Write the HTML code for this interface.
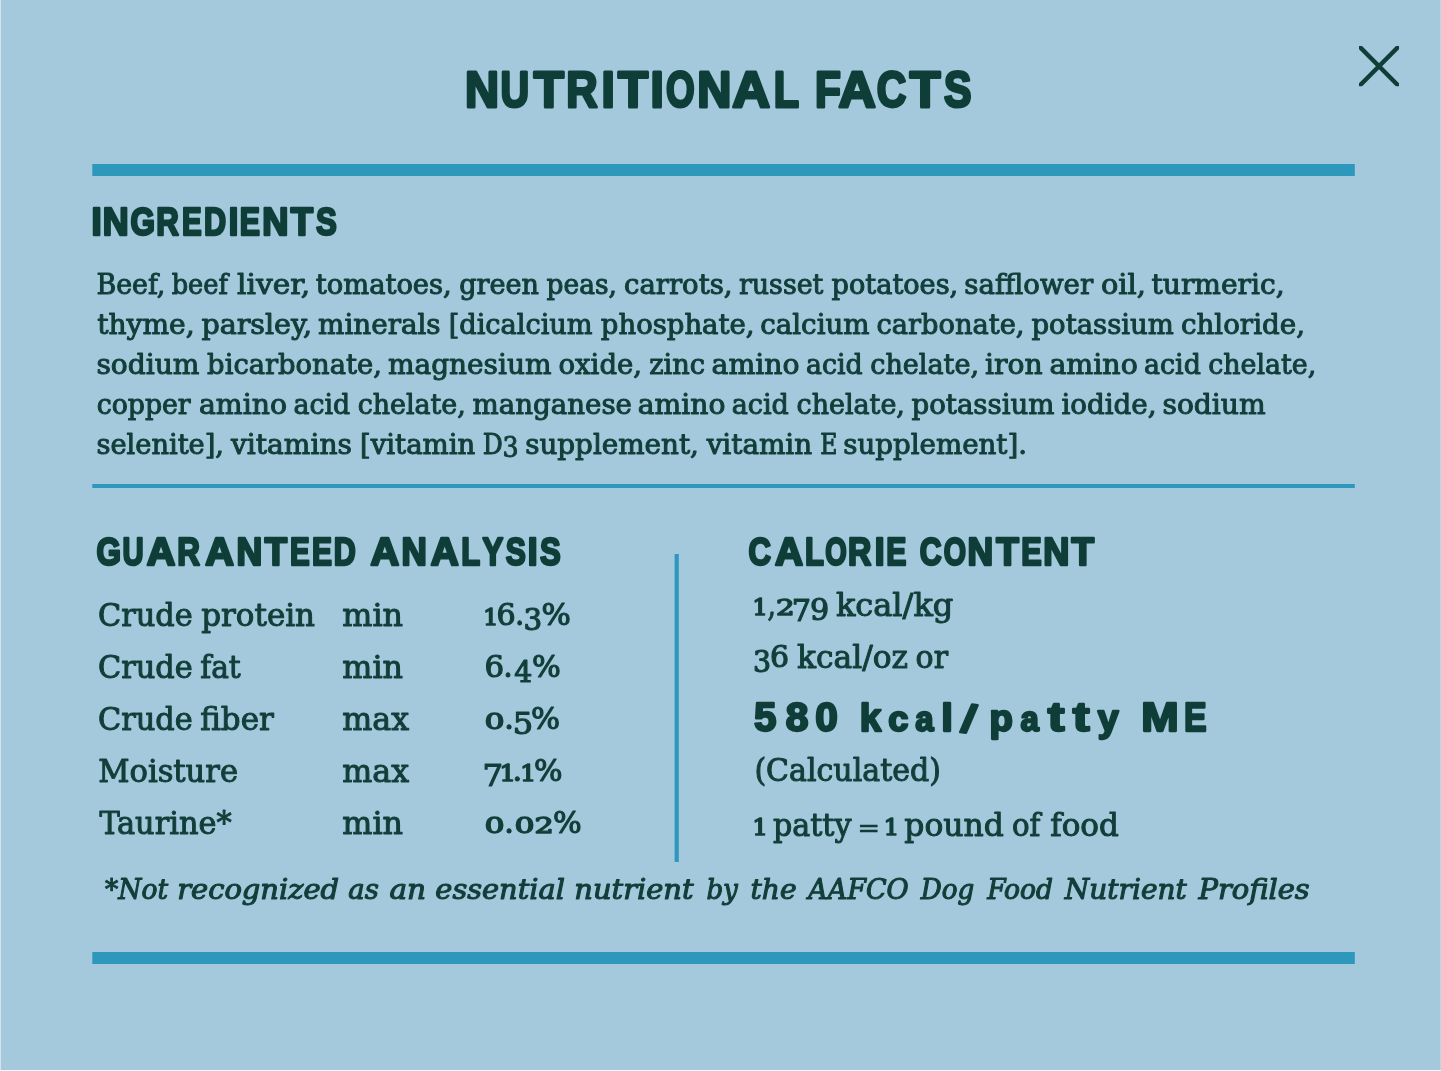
<!DOCTYPE html>
<html lang="en">
<head>
<meta charset="utf-8">
<title>Nutritional Facts</title>
<style>
html,body{margin:0;padding:0;background:#a4c8dc;overflow:hidden}
#stage{position:relative;width:1441px;height:1071px;background:#a4c8dc;overflow:hidden}
svg{position:absolute;left:0;top:0;display:block}
text{stroke-linejoin:round;white-space:pre}
.hd{font-family:"Liberation Sans","DejaVu Sans",sans-serif;font-weight:bold;fill:#0f3d38;stroke:#0f3d38}
.bd{font-family:"DejaVu Serif Condensed","DejaVu Serif","Liberation Serif",serif;font-stretch:condensed;fill:#113e39;stroke:#113e39}
.it{font-family:"DejaVu Serif Condensed","DejaVu Serif","Liberation Serif",serif;font-stretch:condensed;font-style:italic;fill:#113e39;stroke:#113e39}
.bar{fill:#2d98bb}
</style>
</head>
<body>
<div id="stage">
<svg width="1441" height="1071" viewBox="0 0 1441 1071">
<rect x="0" y="0" width="1441" height="1071" fill="#a4c8dc"/>
<rect x="0" y="0" width="1" height="1071" fill="#d3e4ee"/>
<rect x="1440" y="0" width="1" height="1071" fill="#bcd6e4"/>
<rect x="0" y="1070" width="1441" height="1" fill="#f1f6f9"/>
<rect class="bar" x="92.3" y="164" width="1262.5" height="12"/>
<rect class="bar" x="92.3" y="484" width="1262.5" height="4"/>
<rect class="bar" x="674.6" y="554" width="4.2" height="308"/>
<rect class="bar" x="92.3" y="952" width="1262.5" height="12"/>
<svg x="1359" y="46.1" width="40" height="40.2" viewBox="0 0 40 40" preserveAspectRatio="none"><path d="M0 0L40 40M40 0L0 40" stroke="#0f3d38" stroke-width="4.4" fill="none"/></svg>
<text class="hd" aria-label="NUTRITIONAL FACTS"><tspan x="465.04" y="106.50" textLength="34.04" lengthAdjust="spacingAndGlyphs" font-size="50.73" stroke-width="3.0">N</tspan><tspan x="500.59" y="106.50" textLength="28.66" lengthAdjust="spacingAndGlyphs" font-size="50.73" stroke-width="3.0">U</tspan><tspan x="533.81" y="106.50" textLength="30.16" lengthAdjust="spacingAndGlyphs" font-size="50.73" stroke-width="3.0">T</tspan><tspan x="566.28" y="106.50" textLength="31.33" lengthAdjust="spacingAndGlyphs" font-size="50.73" stroke-width="3.0">R</tspan><tspan x="601.42" y="106.50" textLength="13.26" lengthAdjust="spacingAndGlyphs" font-size="50.73" stroke-width="3.0">I</tspan><tspan x="617.90" y="106.50" textLength="30.07" lengthAdjust="spacingAndGlyphs" font-size="50.73" stroke-width="3.0">T</tspan><tspan x="650.62" y="106.50" textLength="13.26" lengthAdjust="spacingAndGlyphs" font-size="50.73" stroke-width="3.0">I</tspan><tspan x="665.98" y="106.50" textLength="28.68" lengthAdjust="spacingAndGlyphs" font-size="50.73" stroke-width="3.0">O</tspan><tspan x="697.23" y="106.50" textLength="34.15" lengthAdjust="spacingAndGlyphs" font-size="50.73" stroke-width="3.0">N</tspan><tspan x="732.34" y="106.50" textLength="37.79" lengthAdjust="spacingAndGlyphs" font-size="50.73" stroke-width="3.0">A</tspan><tspan x="773.85" y="106.50" textLength="25.30" lengthAdjust="spacingAndGlyphs" font-size="50.73" stroke-width="3.0">L</tspan> <tspan x="815.02" y="106.50" textLength="25.88" lengthAdjust="spacingAndGlyphs" font-size="50.73" stroke-width="3.0">F</tspan><tspan x="838.44" y="106.50" textLength="37.29" lengthAdjust="spacingAndGlyphs" font-size="50.73" stroke-width="3.0">A</tspan><tspan x="876.73" y="106.50" textLength="29.58" lengthAdjust="spacingAndGlyphs" font-size="50.73" stroke-width="3.0">C</tspan><tspan x="909.82" y="106.50" textLength="30.64" lengthAdjust="spacingAndGlyphs" font-size="50.73" stroke-width="3.0">T</tspan><tspan x="943.93" y="106.50" textLength="27.46" lengthAdjust="spacingAndGlyphs" font-size="50.73" stroke-width="3.0">S</tspan></text>
<text class="hd" aria-label="INGREDIENTS"><tspan x="91.55" y="234.55" textLength="10.20" lengthAdjust="spacingAndGlyphs" font-size="38.08" stroke-width="2.5">I</tspan><tspan x="102.78" y="234.55" textLength="25.86" lengthAdjust="spacingAndGlyphs" font-size="38.08" stroke-width="2.5">N</tspan><tspan x="130.44" y="234.55" textLength="24.48" lengthAdjust="spacingAndGlyphs" font-size="38.08" stroke-width="2.5">G</tspan><tspan x="156.23" y="234.55" textLength="22.58" lengthAdjust="spacingAndGlyphs" font-size="38.08" stroke-width="2.5">R</tspan><tspan x="182.09" y="234.55" textLength="19.69" lengthAdjust="spacingAndGlyphs" font-size="38.08" stroke-width="2.5">E</tspan><tspan x="204.06" y="234.55" textLength="22.12" lengthAdjust="spacingAndGlyphs" font-size="38.08" stroke-width="2.5">D</tspan><tspan x="228.63" y="234.55" textLength="9.54" lengthAdjust="spacingAndGlyphs" font-size="38.08" stroke-width="2.5">I</tspan><tspan x="239.87" y="234.55" textLength="20.22" lengthAdjust="spacingAndGlyphs" font-size="38.08" stroke-width="2.5">E</tspan><tspan x="262.16" y="234.55" textLength="26.19" lengthAdjust="spacingAndGlyphs" font-size="38.08" stroke-width="2.5">N</tspan><tspan x="290.79" y="234.55" textLength="22.31" lengthAdjust="spacingAndGlyphs" font-size="38.08" stroke-width="2.5">T</tspan><tspan x="316.03" y="234.55" textLength="20.77" lengthAdjust="spacingAndGlyphs" font-size="38.08" stroke-width="2.5">S</tspan></text>
<text class="hd" aria-label="GUARANTEED ANALYSIS"><tspan x="96.54" y="564.55" textLength="24.48" lengthAdjust="spacingAndGlyphs" font-size="38.23" stroke-width="2.5">G</tspan><tspan x="122.60" y="564.55" textLength="21.13" lengthAdjust="spacingAndGlyphs" font-size="38.23" stroke-width="2.5">U</tspan><tspan x="146.71" y="564.55" textLength="28.54" lengthAdjust="spacingAndGlyphs" font-size="38.23" stroke-width="2.5">A</tspan><tspan x="177.33" y="564.55" textLength="22.69" lengthAdjust="spacingAndGlyphs" font-size="38.23" stroke-width="2.5">R</tspan><tspan x="205.31" y="564.55" textLength="28.64" lengthAdjust="spacingAndGlyphs" font-size="38.23" stroke-width="2.5">A</tspan><tspan x="236.48" y="564.55" textLength="25.76" lengthAdjust="spacingAndGlyphs" font-size="38.23" stroke-width="2.5">N</tspan><tspan x="264.68" y="564.55" textLength="22.31" lengthAdjust="spacingAndGlyphs" font-size="38.23" stroke-width="2.5">T</tspan><tspan x="290.09" y="564.55" textLength="19.70" lengthAdjust="spacingAndGlyphs" font-size="38.23" stroke-width="2.5">E</tspan><tspan x="312.07" y="564.55" textLength="20.02" lengthAdjust="spacingAndGlyphs" font-size="38.23" stroke-width="2.5">E</tspan><tspan x="333.86" y="564.55" textLength="22.03" lengthAdjust="spacingAndGlyphs" font-size="38.23" stroke-width="2.5">D</tspan> <tspan x="370.41" y="564.55" textLength="28.64" lengthAdjust="spacingAndGlyphs" font-size="38.23" stroke-width="2.5">A</tspan><tspan x="401.40" y="564.55" textLength="25.31" lengthAdjust="spacingAndGlyphs" font-size="38.23" stroke-width="2.5">N</tspan><tspan x="430.70" y="564.55" textLength="27.95" lengthAdjust="spacingAndGlyphs" font-size="38.23" stroke-width="2.5">A</tspan><tspan x="461.34" y="564.55" textLength="18.90" lengthAdjust="spacingAndGlyphs" font-size="38.23" stroke-width="2.5">L</tspan><tspan x="482.38" y="564.55" textLength="20.70" lengthAdjust="spacingAndGlyphs" font-size="38.23" stroke-width="2.5">Y</tspan><tspan x="505.72" y="564.55" textLength="20.07" lengthAdjust="spacingAndGlyphs" font-size="38.23" stroke-width="2.5">S</tspan><tspan x="527.69" y="564.55" textLength="9.82" lengthAdjust="spacingAndGlyphs" font-size="38.23" stroke-width="2.5">I</tspan><tspan x="539.92" y="564.55" textLength="20.68" lengthAdjust="spacingAndGlyphs" font-size="38.23" stroke-width="2.5">S</tspan></text>
<text class="hd" aria-label="CALORIE CONTENT"><tspan x="748.44" y="564.65" textLength="22.49" lengthAdjust="spacingAndGlyphs" font-size="38.23" stroke-width="2.5">C</tspan><tspan x="774.90" y="564.65" textLength="28.05" lengthAdjust="spacingAndGlyphs" font-size="38.23" stroke-width="2.5">A</tspan><tspan x="805.04" y="564.65" textLength="18.90" lengthAdjust="spacingAndGlyphs" font-size="38.23" stroke-width="2.5">L</tspan><tspan x="825.27" y="564.65" textLength="21.49" lengthAdjust="spacingAndGlyphs" font-size="38.23" stroke-width="2.5">O</tspan><tspan x="848.10" y="564.65" textLength="23.31" lengthAdjust="spacingAndGlyphs" font-size="38.23" stroke-width="2.5">R</tspan><tspan x="874.79" y="564.65" textLength="9.82" lengthAdjust="spacingAndGlyphs" font-size="38.23" stroke-width="2.5">I</tspan><tspan x="886.27" y="564.65" textLength="20.12" lengthAdjust="spacingAndGlyphs" font-size="38.23" stroke-width="2.5">E</tspan> <tspan x="919.85" y="564.65" textLength="21.89" lengthAdjust="spacingAndGlyphs" font-size="38.23" stroke-width="2.5">C</tspan><tspan x="943.76" y="564.65" textLength="22.31" lengthAdjust="spacingAndGlyphs" font-size="38.23" stroke-width="2.5">O</tspan><tspan x="967.59" y="564.65" textLength="25.65" lengthAdjust="spacingAndGlyphs" font-size="38.23" stroke-width="2.5">N</tspan><tspan x="996.19" y="564.65" textLength="22.59" lengthAdjust="spacingAndGlyphs" font-size="38.23" stroke-width="2.5">T</tspan><tspan x="1021.35" y="564.65" textLength="20.44" lengthAdjust="spacingAndGlyphs" font-size="38.23" stroke-width="2.5">E</tspan><tspan x="1043.36" y="564.65" textLength="26.09" lengthAdjust="spacingAndGlyphs" font-size="38.23" stroke-width="2.5">N</tspan><tspan x="1071.49" y="564.65" textLength="22.59" lengthAdjust="spacingAndGlyphs" font-size="38.23" stroke-width="2.5">T</tspan></text>
<text class="hd" aria-label="580 kcal/patty ME"><tspan x="754.12" y="731.35" textLength="22.44" lengthAdjust="spacingAndGlyphs" font-size="39.97" stroke-width="2.3">5</tspan><tspan x="785.68" y="731.35" textLength="22.70" lengthAdjust="spacingAndGlyphs" font-size="39.97" stroke-width="2.3">8</tspan><tspan x="815.36" y="731.35" textLength="22.53" lengthAdjust="spacingAndGlyphs" font-size="39.97" stroke-width="2.3">0</tspan> <tspan x="859.76" y="731.35" textLength="21.44" lengthAdjust="spacingAndGlyphs" font-size="38.37" stroke-width="2.3">k</tspan><tspan x="888.37" y="731.35" textLength="20.11" lengthAdjust="spacingAndGlyphs" font-size="35.17" stroke-width="2.3">c</tspan><tspan x="915.31" y="731.35" textLength="18.30" lengthAdjust="spacingAndGlyphs" font-size="35.17" stroke-width="2.3">a</tspan><tspan x="941.22" y="731.35" textLength="11.70" lengthAdjust="spacingAndGlyphs" font-size="38.37" stroke-width="2.3">l</tspan><tspan x="960.07" y="731.35" textLength="12.89" lengthAdjust="spacingAndGlyphs" font-size="38.77" stroke-width="2.3" rotate="9">/</tspan><tspan x="989.47" y="731.35" textLength="23.40" lengthAdjust="spacingAndGlyphs" font-size="36.77" stroke-width="2.3">p</tspan><tspan x="1020.41" y="731.35" textLength="18.30" lengthAdjust="spacingAndGlyphs" font-size="35.17" stroke-width="2.3">a</tspan><tspan x="1047.78" y="731.35" textLength="16.75" lengthAdjust="spacingAndGlyphs" font-size="41.57" stroke-width="2.3">t</tspan><tspan x="1072.68" y="731.35" textLength="16.84" lengthAdjust="spacingAndGlyphs" font-size="41.57" stroke-width="2.3">t</tspan><tspan x="1097.78" y="731.35" textLength="20.85" lengthAdjust="spacingAndGlyphs" font-size="36.77" stroke-width="2.3">y</tspan> <tspan x="1141.19" y="731.35" textLength="37.43" lengthAdjust="spacingAndGlyphs" font-size="39.97" stroke-width="2.3">M</tspan><tspan x="1183.91" y="731.35" textLength="22.64" lengthAdjust="spacingAndGlyphs" font-size="39.97" stroke-width="2.3">E</tspan></text>
<text class="bd"><tspan x="96.52" y="293.80" textLength="68.75" lengthAdjust="spacingAndGlyphs" font-size="28.00" stroke-width="0.95">Beef,</tspan> <tspan x="171.65" y="293.80" textLength="56.23" lengthAdjust="spacingAndGlyphs" font-size="28.00" stroke-width="0.95">beef</tspan> <tspan x="237.11" y="293.80" textLength="72.97" lengthAdjust="spacingAndGlyphs" font-size="28.00" stroke-width="0.95">liver,</tspan> <tspan x="315.83" y="293.80" textLength="135.88" lengthAdjust="spacingAndGlyphs" font-size="28.00" stroke-width="0.95">tomatoes,</tspan> <tspan x="459.16" y="293.80" textLength="79.78" lengthAdjust="spacingAndGlyphs" font-size="28.00" stroke-width="0.95">green</tspan> <tspan x="546.64" y="293.80" textLength="70.30" lengthAdjust="spacingAndGlyphs" font-size="28.00" stroke-width="0.95">peas,</tspan> <tspan x="624.05" y="293.80" textLength="108.48" lengthAdjust="spacingAndGlyphs" font-size="28.00" stroke-width="0.95">carrots,</tspan> <tspan x="738.93" y="293.80" textLength="84.47" lengthAdjust="spacingAndGlyphs" font-size="28.00" stroke-width="0.95">russet</tspan> <tspan x="831.63" y="293.80" textLength="126.56" lengthAdjust="spacingAndGlyphs" font-size="28.00" stroke-width="0.95">potatoes,</tspan> <tspan x="964.36" y="293.80" textLength="128.72" lengthAdjust="spacingAndGlyphs" font-size="28.00" stroke-width="0.95">safflower</tspan> <tspan x="1101.01" y="293.80" textLength="44.81" lengthAdjust="spacingAndGlyphs" font-size="28.00" stroke-width="0.95">oil,</tspan> <tspan x="1151.62" y="293.80" textLength="132.94" lengthAdjust="spacingAndGlyphs" font-size="28.00" stroke-width="0.95">turmeric,</tspan></text>
<text class="bd"><tspan x="97.22" y="333.80" textLength="97.34" lengthAdjust="spacingAndGlyphs" font-size="28.00" stroke-width="0.95">thyme,</tspan> <tspan x="201.42" y="333.80" textLength="110.59" lengthAdjust="spacingAndGlyphs" font-size="28.00" stroke-width="0.95">parsley,</tspan> <tspan x="318.11" y="333.80" textLength="122.48" lengthAdjust="spacingAndGlyphs" font-size="28.00" stroke-width="0.95">minerals</tspan> <tspan x="448.68" y="333.80" textLength="143.94" lengthAdjust="spacingAndGlyphs" font-size="28.00" stroke-width="0.95">[dicalcium</tspan> <tspan x="600.83" y="333.80" textLength="153.70" lengthAdjust="spacingAndGlyphs" font-size="28.00" stroke-width="0.95">phosphate,</tspan> <tspan x="760.24" y="333.80" textLength="109.39" lengthAdjust="spacingAndGlyphs" font-size="28.00" stroke-width="0.95">calcium</tspan> <tspan x="876.55" y="333.80" textLength="147.95" lengthAdjust="spacingAndGlyphs" font-size="28.00" stroke-width="0.95">carbonate,</tspan> <tspan x="1031.53" y="333.80" textLength="142.30" lengthAdjust="spacingAndGlyphs" font-size="28.00" stroke-width="0.95">potassium</tspan> <tspan x="1180.94" y="333.80" textLength="124.00" lengthAdjust="spacingAndGlyphs" font-size="28.00" stroke-width="0.95">chloride,</tspan></text>
<text class="bd"><tspan x="96.44" y="373.70" textLength="102.99" lengthAdjust="spacingAndGlyphs" font-size="28.00" stroke-width="0.95">sodium</tspan> <tspan x="207.13" y="373.70" textLength="174.78" lengthAdjust="spacingAndGlyphs" font-size="28.00" stroke-width="0.95">bicarbonate,</tspan> <tspan x="388.01" y="373.70" textLength="163.42" lengthAdjust="spacingAndGlyphs" font-size="28.00" stroke-width="0.95">magnesium</tspan> <tspan x="558.55" y="373.70" textLength="83.48" lengthAdjust="spacingAndGlyphs" font-size="28.00" stroke-width="0.95">oxide,</tspan> <tspan x="649.22" y="373.70" textLength="55.91" lengthAdjust="spacingAndGlyphs" font-size="28.00" stroke-width="0.95">zinc</tspan> <tspan x="711.52" y="373.70" textLength="88.06" lengthAdjust="spacingAndGlyphs" font-size="28.00" stroke-width="0.95">amino</tspan> <tspan x="806.07" y="373.70" textLength="56.60" lengthAdjust="spacingAndGlyphs" font-size="28.00" stroke-width="0.95">acid</tspan> <tspan x="870.26" y="373.70" textLength="108.73" lengthAdjust="spacingAndGlyphs" font-size="28.00" stroke-width="0.95">chelate,</tspan> <tspan x="985.01" y="373.70" textLength="57.54" lengthAdjust="spacingAndGlyphs" font-size="28.00" stroke-width="0.95">iron</tspan> <tspan x="1049.42" y="373.70" textLength="88.37" lengthAdjust="spacingAndGlyphs" font-size="28.00" stroke-width="0.95">amino</tspan> <tspan x="1144.07" y="373.70" textLength="56.80" lengthAdjust="spacingAndGlyphs" font-size="28.00" stroke-width="0.95">acid</tspan> <tspan x="1208.27" y="373.70" textLength="108.01" lengthAdjust="spacingAndGlyphs" font-size="28.00" stroke-width="0.95">chelate,</tspan></text>
<text class="bd"><tspan x="96.67" y="413.70" textLength="94.03" lengthAdjust="spacingAndGlyphs" font-size="28.00" stroke-width="0.95">copper</tspan> <tspan x="199.02" y="413.70" textLength="87.96" lengthAdjust="spacingAndGlyphs" font-size="28.00" stroke-width="0.95">amino</tspan> <tspan x="293.47" y="413.70" textLength="56.60" lengthAdjust="spacingAndGlyphs" font-size="28.00" stroke-width="0.95">acid</tspan> <tspan x="357.66" y="413.70" textLength="108.11" lengthAdjust="spacingAndGlyphs" font-size="28.00" stroke-width="0.95">chelate,</tspan> <tspan x="472.52" y="413.70" textLength="159.43" lengthAdjust="spacingAndGlyphs" font-size="28.00" stroke-width="0.95">manganese</tspan> <tspan x="637.72" y="413.70" textLength="87.75" lengthAdjust="spacingAndGlyphs" font-size="28.00" stroke-width="0.95">amino</tspan> <tspan x="731.76" y="413.70" textLength="57.11" lengthAdjust="spacingAndGlyphs" font-size="28.00" stroke-width="0.95">acid</tspan> <tspan x="796.56" y="413.70" textLength="108.32" lengthAdjust="spacingAndGlyphs" font-size="28.00" stroke-width="0.95">chelate,</tspan> <tspan x="911.53" y="413.70" textLength="143.00" lengthAdjust="spacingAndGlyphs" font-size="28.00" stroke-width="0.95">potassium</tspan> <tspan x="1061.41" y="413.70" textLength="95.13" lengthAdjust="spacingAndGlyphs" font-size="28.00" stroke-width="0.95">iodide,</tspan> <tspan x="1162.54" y="413.70" textLength="102.99" lengthAdjust="spacingAndGlyphs" font-size="28.00" stroke-width="0.95">sodium</tspan></text>
<text class="bd" aria-label="selenite], vitamins [vitamin D3 supplement, vitamin E supplement]."><tspan x="96.48" y="453.60" textLength="127.53" lengthAdjust="spacingAndGlyphs" font-size="28.00" stroke-width="0.95">selenite],</tspan> <tspan x="230.99" y="453.60" textLength="120.91" lengthAdjust="spacingAndGlyphs" font-size="28.00" stroke-width="0.95">vitamins</tspan> <tspan x="359.96" y="453.60" textLength="115.29" lengthAdjust="spacingAndGlyphs" font-size="28.00" stroke-width="0.95">[vitamin</tspan> <tspan x="482.79" y="453.60" textLength="19.96" lengthAdjust="spacingAndGlyphs" font-size="28.00" stroke-width="0.95">D</tspan><tspan x="502.63" y="457.05" textLength="16.08" lengthAdjust="spacingAndGlyphs" font-size="27.90" stroke-width="0.9">3</tspan> <tspan x="525.16" y="453.60" textLength="173.79" lengthAdjust="spacingAndGlyphs" font-size="28.00" stroke-width="0.95">supplement,</tspan> <tspan x="706.68" y="453.60" textLength="105.46" lengthAdjust="spacingAndGlyphs" font-size="28.00" stroke-width="0.95">vitamin</tspan> <tspan x="820.34" y="453.60" textLength="17.19" lengthAdjust="spacingAndGlyphs" font-size="28.00" stroke-width="0.95">E</tspan> <tspan x="843.36" y="453.60" textLength="183.70" lengthAdjust="spacingAndGlyphs" font-size="28.00" stroke-width="0.95">supplement].</tspan></text>
<text class="bd"><tspan x="97.99" y="625.70" textLength="94.81" lengthAdjust="spacingAndGlyphs" font-size="32.00" stroke-width="0.95">Crude</tspan> <tspan x="201.22" y="625.70" textLength="113.83" lengthAdjust="spacingAndGlyphs" font-size="32.00" stroke-width="0.95">protein</tspan></text>
<text class="bd"><tspan x="342.27" y="625.70" textLength="60.79" lengthAdjust="spacingAndGlyphs" font-size="32.00" stroke-width="0.95">min</tspan></text>
<text class="bd"><tspan x="97.99" y="677.70" textLength="94.81" lengthAdjust="spacingAndGlyphs" font-size="32.00" stroke-width="0.95">Crude</tspan> <tspan x="200.21" y="677.70" textLength="40.52" lengthAdjust="spacingAndGlyphs" font-size="32.00" stroke-width="0.95">fat</tspan></text>
<text class="bd"><tspan x="342.27" y="677.70" textLength="60.79" lengthAdjust="spacingAndGlyphs" font-size="32.00" stroke-width="0.95">min</tspan></text>
<text class="bd"><tspan x="97.99" y="729.70" textLength="94.81" lengthAdjust="spacingAndGlyphs" font-size="32.00" stroke-width="0.95">Crude</tspan> <tspan x="200.18" y="729.70" textLength="73.60" lengthAdjust="spacingAndGlyphs" font-size="32.00" stroke-width="0.95">fiber</tspan></text>
<text class="bd"><tspan x="342.27" y="729.70" textLength="66.78" lengthAdjust="spacingAndGlyphs" font-size="32.00" stroke-width="0.95">max</tspan></text>
<text class="bd"><tspan x="98.18" y="781.70" textLength="139.83" lengthAdjust="spacingAndGlyphs" font-size="32.00" stroke-width="0.95">Moisture</tspan></text>
<text class="bd"><tspan x="342.27" y="781.70" textLength="66.78" lengthAdjust="spacingAndGlyphs" font-size="32.00" stroke-width="0.95">max</tspan></text>
<text class="bd"><tspan x="99.40" y="833.70" textLength="132.17" lengthAdjust="spacingAndGlyphs" font-size="32.00" stroke-width="0.95">Taurine*</tspan></text>
<text class="bd"><tspan x="342.27" y="833.70" textLength="60.79" lengthAdjust="spacingAndGlyphs" font-size="32.00" stroke-width="0.95">min</tspan></text>
<text class="bd" aria-label="16.3%"><tspan x="483.11" y="625.05" textLength="15.56" lengthAdjust="spacingAndGlyphs" font-size="22.23" stroke-width="1.3">1</tspan><tspan x="496.61" y="625.23" textLength="19.16" lengthAdjust="spacingAndGlyphs" font-size="29.88" stroke-width="1.1">6</tspan><tspan x="515.13" y="625.19" textLength="9.31" lengthAdjust="spacingAndGlyphs" font-size="31.07" stroke-width="0.95">.</tspan><tspan x="523.58" y="629.93" textLength="18.68" lengthAdjust="spacingAndGlyphs" font-size="29.48" stroke-width="1.1">3</tspan><tspan x="541.53" y="625.13" textLength="29.33" lengthAdjust="spacingAndGlyphs" font-size="29.75" stroke-width="1.1">%</tspan></text>
<text class="bd" aria-label="6.4%"><tspan x="484.47" y="677.23" textLength="19.62" lengthAdjust="spacingAndGlyphs" font-size="29.88" stroke-width="1.1">6</tspan><tspan x="503.38" y="677.19" textLength="9.50" lengthAdjust="spacingAndGlyphs" font-size="31.07" stroke-width="0.95">.</tspan><tspan x="514.20" y="682.35" textLength="18.04" lengthAdjust="spacingAndGlyphs" font-size="30.05" stroke-width="1.1">4</tspan><tspan x="531.95" y="677.13" textLength="28.79" lengthAdjust="spacingAndGlyphs" font-size="29.75" stroke-width="1.1">%</tspan></text>
<text class="bd" aria-label="0.5%"><tspan x="484.60" y="729.12" textLength="20.10" lengthAdjust="spacingAndGlyphs" font-size="23.01" stroke-width="1.3">0</tspan><tspan x="504.14" y="729.19" textLength="10.09" lengthAdjust="spacingAndGlyphs" font-size="31.07" stroke-width="0.95">.</tspan><tspan x="512.72" y="733.93" textLength="20.40" lengthAdjust="spacingAndGlyphs" font-size="30.01" stroke-width="1.1">5</tspan><tspan x="530.94" y="729.13" textLength="29.01" lengthAdjust="spacingAndGlyphs" font-size="29.75" stroke-width="1.1">%</tspan></text>
<text class="bd" aria-label="71.1%"><tspan x="482.53" y="786.35" textLength="20.54" lengthAdjust="spacingAndGlyphs" font-size="30.59" stroke-width="1.1">7</tspan><tspan x="499.32" y="781.05" textLength="16.87" lengthAdjust="spacingAndGlyphs" font-size="22.23" stroke-width="1.3">1</tspan><tspan x="512.34" y="781.19" textLength="10.09" lengthAdjust="spacingAndGlyphs" font-size="31.07" stroke-width="0.95">.</tspan><tspan x="520.00" y="781.05" textLength="16.29" lengthAdjust="spacingAndGlyphs" font-size="22.23" stroke-width="1.3">1</tspan><tspan x="533.96" y="781.13" textLength="28.47" lengthAdjust="spacingAndGlyphs" font-size="29.75" stroke-width="1.1">%</tspan></text>
<text class="bd" aria-label="0.02%"><tspan x="484.60" y="833.12" textLength="20.10" lengthAdjust="spacingAndGlyphs" font-size="23.01" stroke-width="1.3">0</tspan><tspan x="504.14" y="833.19" textLength="10.09" lengthAdjust="spacingAndGlyphs" font-size="31.07" stroke-width="0.95">.</tspan><tspan x="514.50" y="833.12" textLength="20.10" lengthAdjust="spacingAndGlyphs" font-size="23.01" stroke-width="1.3">0</tspan><tspan x="534.63" y="833.05" textLength="19.24" lengthAdjust="spacingAndGlyphs" font-size="22.23" stroke-width="1.3">2</tspan><tspan x="552.95" y="833.13" textLength="28.68" lengthAdjust="spacingAndGlyphs" font-size="29.75" stroke-width="1.1">%</tspan></text>
<text class="bd" aria-label="1,279 kcal/kg"><tspan x="752.29" y="615.25" textLength="15.71" lengthAdjust="spacingAndGlyphs" font-size="22.23" stroke-width="1.3">1</tspan><tspan x="767.44" y="615.86" textLength="8.41" lengthAdjust="spacingAndGlyphs" font-size="35.01" stroke-width="0.95">,</tspan><tspan x="776.06" y="615.25" textLength="18.65" lengthAdjust="spacingAndGlyphs" font-size="22.23" stroke-width="1.3">2</tspan><tspan x="791.85" y="620.55" textLength="19.32" lengthAdjust="spacingAndGlyphs" font-size="30.59" stroke-width="1.1">7</tspan><tspan x="810.03" y="620.13" textLength="19.18" lengthAdjust="spacingAndGlyphs" font-size="29.48" stroke-width="1.1">9</tspan> <tspan x="835.91" y="615.90" textLength="117.39" lengthAdjust="spacingAndGlyphs" font-size="32.00" stroke-width="0.95">kcal/kg</tspan></text>
<text class="bd" aria-label="36 kcal/oz or"><tspan x="752.93" y="671.83" textLength="18.08" lengthAdjust="spacingAndGlyphs" font-size="29.48" stroke-width="1.1">3</tspan><tspan x="769.91" y="667.13" textLength="19.04" lengthAdjust="spacingAndGlyphs" font-size="29.88" stroke-width="1.1">6</tspan> <tspan x="797.12" y="667.60" textLength="110.90" lengthAdjust="spacingAndGlyphs" font-size="32.00" stroke-width="0.95">kcal/oz</tspan> <tspan x="915.60" y="667.60" textLength="32.41" lengthAdjust="spacingAndGlyphs" font-size="32.00" stroke-width="0.95">or</tspan></text>
<text class="bd"><tspan x="754.42" y="780.80" textLength="186.47" lengthAdjust="spacingAndGlyphs" font-size="32.00" stroke-width="0.95">(Calculated)</tspan></text>
<text class="bd"><tspan x="752.29" y="835.45" textLength="15.71" lengthAdjust="spacingAndGlyphs" font-size="22.23" stroke-width="1.3">1</tspan> <tspan x="773.03" y="836.10" textLength="78.44" lengthAdjust="spacingAndGlyphs" font-size="32.00" stroke-width="0.95">patty</tspan> <tspan x="857.35" y="837.01" textLength="22.90" lengthAdjust="spacingAndGlyphs" font-size="25.24" stroke-width="0.4">=</tspan> <tspan x="883.47" y="835.45" textLength="15.85" lengthAdjust="spacingAndGlyphs" font-size="22.23" stroke-width="1.3">1</tspan> <tspan x="904.31" y="836.10" textLength="99.57" lengthAdjust="spacingAndGlyphs" font-size="32.00" stroke-width="0.95">pound</tspan> <tspan x="1012.02" y="836.10" textLength="28.43" lengthAdjust="spacingAndGlyphs" font-size="32.00" stroke-width="0.95">of</tspan> <tspan x="1050.18" y="836.10" textLength="68.70" lengthAdjust="spacingAndGlyphs" font-size="32.00" stroke-width="0.95">food</tspan></text>
<text class="it"><tspan x="105.11" y="898.70" textLength="63.01" lengthAdjust="spacingAndGlyphs" font-size="27.20" stroke-width="1.0">*Not</tspan> <tspan x="177.26" y="898.70" textLength="161.89" lengthAdjust="spacingAndGlyphs" font-size="27.20" stroke-width="1.0">recognized</tspan> <tspan x="348.23" y="898.70" textLength="30.63" lengthAdjust="spacingAndGlyphs" font-size="27.20" stroke-width="1.0">as</tspan> <tspan x="389.41" y="898.70" textLength="36.74" lengthAdjust="spacingAndGlyphs" font-size="27.20" stroke-width="1.0">an</tspan> <tspan x="435.37" y="898.70" textLength="129.52" lengthAdjust="spacingAndGlyphs" font-size="27.20" stroke-width="1.0">essential</tspan> <tspan x="574.27" y="898.70" textLength="119.30" lengthAdjust="spacingAndGlyphs" font-size="27.20" stroke-width="1.0">nutrient</tspan> <tspan x="706.41" y="898.70" textLength="31.47" lengthAdjust="spacingAndGlyphs" font-size="27.20" stroke-width="1.0">by</tspan> <tspan x="750.43" y="898.70" textLength="46.15" lengthAdjust="spacingAndGlyphs" font-size="27.20" stroke-width="1.0">the</tspan> <tspan x="808.20" y="898.70" textLength="100.49" lengthAdjust="spacingAndGlyphs" font-size="27.20" stroke-width="1.0">AAFCO</tspan> <tspan x="920.83" y="898.70" textLength="53.45" lengthAdjust="spacingAndGlyphs" font-size="27.20" stroke-width="1.0">Dog</tspan> <tspan x="987.35" y="898.70" textLength="65.66" lengthAdjust="spacingAndGlyphs" font-size="27.20" stroke-width="1.0">Food</tspan> <tspan x="1064.83" y="898.70" textLength="121.95" lengthAdjust="spacingAndGlyphs" font-size="27.20" stroke-width="1.0">Nutrient</tspan> <tspan x="1198.43" y="898.70" textLength="111.25" lengthAdjust="spacingAndGlyphs" font-size="27.20" stroke-width="1.0">Profiles</tspan></text>
</svg>
</div>
</body>
</html>
